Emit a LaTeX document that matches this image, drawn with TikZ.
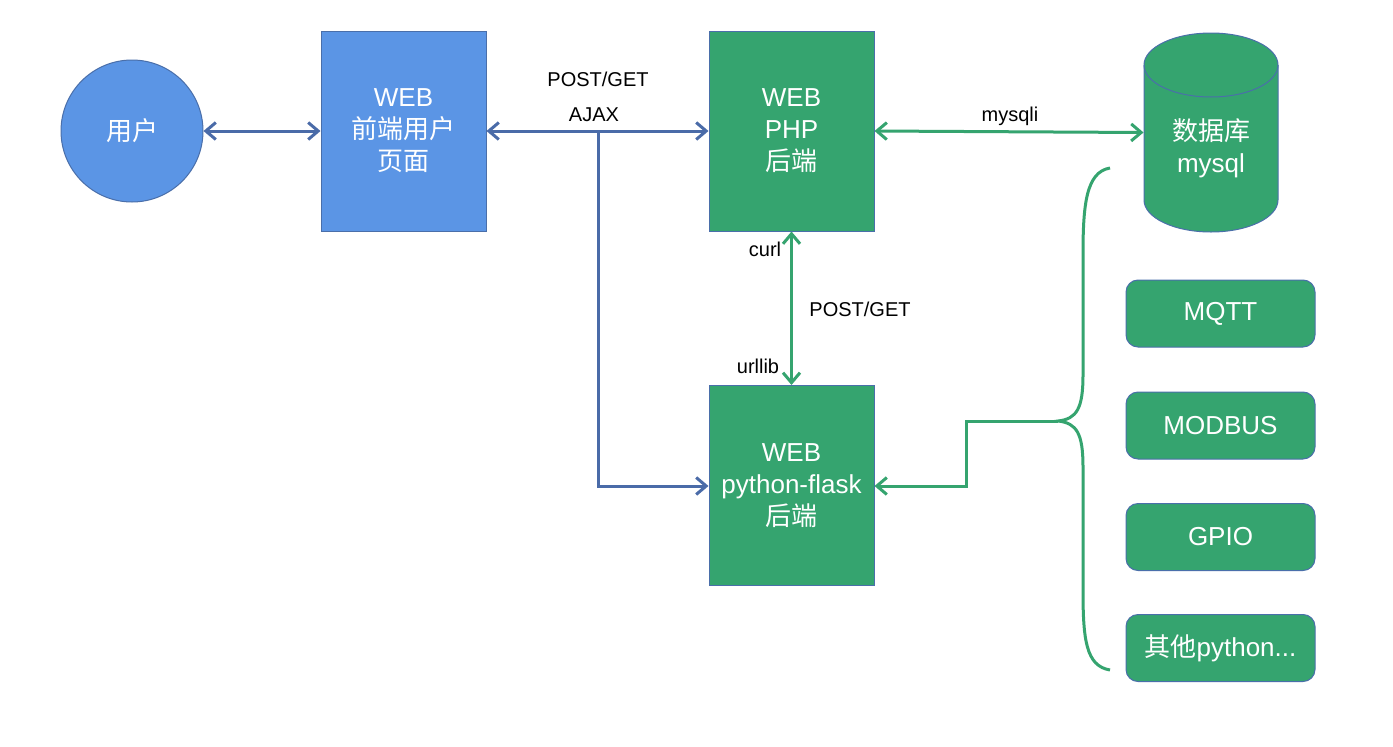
\documentclass[tikz,border=0pt]{standalone}
\usepackage{fontspec}
\setmainfont{Liberation Sans}
\newfontfamily\cjk{Noto Sans CJK SC}
\usetikzlibrary{arrows.meta}
\definecolor{bfill}{HTML}{5B95E5}
\definecolor{gfill}{HTML}{35A46F}
\definecolor{edgec}{HTML}{4A6FAA}
\definecolor{barrow}{HTML}{4A6BA8}
\definecolor{garrow}{HTML}{35A46F}
\begin{document}
\begin{tikzpicture}[x=1pt,y=-1pt,
  box/.style={draw=edgec, line width=1pt, text=white, align=center,
    font=\fontsize{26}{32}\selectfont, inner sep=0pt},
  bluebox/.style={box, fill=bfill, minimum width=165pt, minimum height=200pt},
  greenbox/.style={box, fill=gfill, minimum width=165pt, minimum height=200pt},
  smallbox/.style={box, fill=gfill, rounded corners=12pt, minimum width=189pt, minimum height=67pt},
  lbl/.style={font=\fontsize{20}{24}\selectfont, inner sep=0pt, text=black},
  tipb/.tip={Straight Barb[length=10pt,width=17pt]},
  barr/.style={draw=barrow, line width=3pt},
  garr/.style={draw=garrow, line width=3pt},
]
\useasboundingbox (0,0) rectangle (1393,747);
\fill[white] (0,0) rectangle (1393,747);

% nodes
\node[box, circle, fill=bfill, minimum size=142pt] (user) at (132,131) {\cjk 用户};
\node[bluebox] (front) at (403.5,131) {WEB\\{\cjk 前端用户}\\{\cjk 页面}};
\node[greenbox] (php) at (791.5,131) {WEB\\PHP\\{\cjk 后端}};
\node[greenbox] (flask) at (791.5,485.5) {WEB\\python-flask\\{\cjk 后端}};

% cylinder
\fill[gfill] (1144,65) -- (1144,200) arc[start angle=180,end angle=360,x radius=67pt,y radius=32pt]
  -- (1278,65) arc[start angle=0,end angle=180,x radius=67pt,y radius=32pt] -- cycle;
\draw[edgec, line width=1pt] (1144,65) -- (1144,200) arc[start angle=180,end angle=360,x radius=67pt,y radius=32pt]
  -- (1278,65);
\draw[edgec, line width=1pt] (1211,65) ellipse[x radius=67pt, y radius=32pt];
\node[box, draw=none, minimum width=134pt, minimum height=199pt] (db) at (1211,132.5) {};
\node[box, draw=none] (dbt) at (1211,148) {{\cjk 数据库}\\mysql};

\node[smallbox] (mqtt) at (1220.5,313.5) {MQTT};
\node[smallbox] (modbus) at (1220.5,425.5) {MODBUS};
\node[smallbox] (gpio) at (1220.5,537) {GPIO};
\node[smallbox] (other) at (1220.5,648) {{\cjk 其他}python...};

% labels
\node[lbl] (l1) at (598,79) {POST/GET};
\node[lbl] (l2) at (594,115) {AJAX};
\node[lbl] (l3) at (1010,116) {mysqli};
\node[lbl] (l4) at (765,249) {curl};
\node[lbl] (l5) at (860,309) {POST/GET};
\node[lbl] (l6) at (758,366) {urllib};

% coordinates
\coordinate (br) at (598,131);
\coordinate (bd) at (598,486);
\coordinate (bt) at (1110,168);
\coordinate (bb) at (1110,670);
\coordinate (tip) at (1058,421);
\coordinate (k1) at (966,421);
\coordinate (k2) at (966,486);

% blue connectors
\draw[barr, tipb-tipb] (user) -- (front);
\draw[barr, tipb-tipb] (front.east) -- (php.west);
\draw[barr, -tipb] (br) -- (bd) -- (flask.west |- bd);

% green connectors
\draw[garr, tipb-tipb] (php.east) -- (db.west);
\draw[garr, tipb-tipb] (php.south) -- (flask.north);
\draw[garr, -tipb] (tip) -- (k1) -- (k2) -- (flask.east |- k2);

% brace
\draw[garrow, line width=3pt] (bt) .. controls (1086,172) and (1083,205) .. (1083,255)
  -- (1083,375) .. controls (1083,408) and (1077,419) .. (tip)
  .. controls (1077,423) and (1083,434) .. (1083,467)
  -- (1083,590) .. controls (1083,640) and (1086,666) .. (bb);
\end{tikzpicture}
\end{document}
